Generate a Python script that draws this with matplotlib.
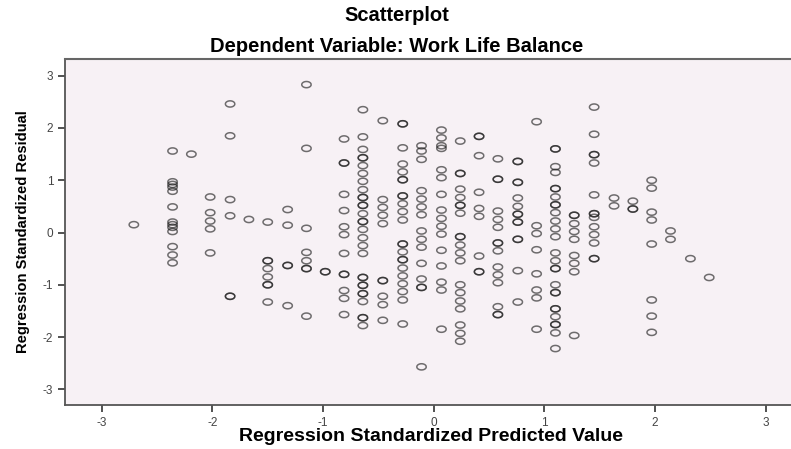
import numpy as np
import matplotlib
matplotlib.use("Agg")
import matplotlib.pyplot as plt
from matplotlib.path import Path

# Predicted values (discrete columns) and the residuals in each column
pred_levels = [-2.71, -2.36, -2.19, -2.02, -1.84, -1.67, -1.50, -1.32, -1.15, -0.98,
               -0.81, -0.64, -0.46, -0.28, -0.11, 0.07, 0.24, 0.41, 0.58, 0.76,
               0.93, 1.10, 1.27, 1.45, 1.63, 1.80, 1.97, 2.14, 2.32, 2.49]

resid_cols = [
    [0.15],
    [1.56, 0.97, 0.92, 0.87, 0.79, 0.49, 0.20, 0.15, 0.10, 0.02, -0.27, -0.43, -0.58],
    [1.50],
    [0.68, 0.38, 0.22, 0.07, -0.39],
    [2.46, 1.85, 0.63, 0.32, -1.22, -1.22],
    [0.25],
    [0.20, -0.54, -0.54, -0.69, -0.85, -1.00, -1.00, -1.33],
    [0.44, 0.14, -0.63, -0.63, -1.40],
    [2.83, 1.61, 0.08, -0.38, -0.54, -0.69, -0.69, -1.60],
    [-0.75, -0.75],
    [1.79, 1.33, 1.33, 0.73, 0.42, 0.11, -0.04, -0.40, -0.80, -0.80, -1.11, -1.26, -1.57],
    [2.35, 1.83, 1.59, 1.43, 1.43, 1.28, 1.13, 0.98, 0.82, 0.67, 0.67, 0.52, 0.52, 0.36,
     0.21, 0.21, 0.06, -0.10, -0.25, -0.40, -0.86, -0.86, -1.01, -1.01, -1.17, -1.17,
     -1.32, -1.63, -1.63, -1.78],
    [2.14, 0.63, 0.48, 0.33, 0.17, -0.92, -0.92, -1.22, -1.38, -1.68],
    [2.08, 2.08, 1.62, 1.31, 1.16, 1.01, 1.01, 0.70, 0.70, 0.55, 0.40, 0.24, -0.22, -0.22,
     -0.37, -0.52, -0.52, -0.68, -0.83, -0.98, -1.13, -1.29, -1.75],
    [1.66, 1.56, 1.40, 0.80, 0.64, 0.49, 0.34, 0.03, -0.13, -0.28, -0.59, -0.89, -1.05,
     -1.05, -2.57],
    [1.96, 1.81, 1.66, 1.61, 1.20, 1.05, 0.73, 0.43, 0.27, 0.12, -0.03, -0.34, -0.64,
     -0.95, -1.10, -1.85],
    [1.75, 1.13, 1.13, 0.83, 0.67, 0.52, 0.52, 0.37, -0.08, -0.08, -0.24, -0.39, -0.54,
     -1.00, -1.15, -1.31, -1.46, -1.77, -1.93, -2.08],
    [1.84, 1.84, 1.47, 0.77, 0.46, 0.31, -0.45, -0.75, -0.75],
    [1.41, 1.02, 1.02, 0.41, 0.25, 0.10, -0.20, -0.20, -0.35, -0.66, -0.81, -0.96, -1.42,
     -1.57, -1.57],
    [1.36, 1.36, 0.96, 0.96, 0.66, 0.50, 0.35, 0.35, 0.20, 0.20, -0.13, -0.13, -0.73, -1.33],
    [2.12, 0.13, -0.02, -0.33, -0.79, -1.10, -1.25, -1.85],
    [1.60, 1.60, 1.26, 1.15, 0.84, 0.84, 0.68, 0.53, 0.53, 0.38, 0.22, 0.07, -0.08, -0.39,
     -0.54, -0.69, -0.69, -1.00, -1.15, -1.15, -1.46, -1.46, -1.61, -1.76, -1.76, -1.92,
     -2.22],
    [0.33, 0.33, 0.17, 0.02, -0.13, -0.44, -0.59, -0.75, -1.97],
    [2.40, 1.88, 1.49, 1.49, 1.33, 0.72, 0.36, 0.36, 0.29, 0.11, -0.04, -0.20, -0.50, -0.50],
    [0.66, 0.51],
    [0.60, 0.45, 0.45],
    [1.00, 0.85, 0.39, 0.24, -0.22, -1.29, -1.60, -1.91],
    [0.03, -0.13],
    [-0.50],
    [-0.86],
]

ticks = [-3, -2, -1, 0, 1, 2, 3]

x = np.concatenate([[p] * len(r) for p, r in zip(pred_levels, resid_cols)])
y = np.concatenate(resid_cols)

plt.rcParams['font.family'] = ['Liberation Sans', 'DejaVu Sans']
plt.rcParams['axes.unicode_minus'] = False

fig = plt.figure(figsize=(7.91, 4.49), dpi=100)
ax = fig.add_axes([0.0822, 0.098, 0.9178, 0.7706])
ax.set_facecolor('#f7f1f5')

# flattened circle, the SPSS picture is stretched sideways
t = np.linspace(0, 2 * np.pi, 41)
ellipse = Path(np.column_stack([np.cos(t), 0.66 * np.sin(t)]))

ax.scatter(x, y, marker=ellipse, s=46, facecolors='none', edgecolors='#1a1a1a',
           linewidths=1.1, alpha=0.62, zorder=3)

ax.set_xlim(-3.332, 3.229)
ax.set_ylim(-3.30, 3.32)
ax.set_xticks(ticks)
ax.set_yticks(ticks)
ax.tick_params(direction='out', length=5, width=1.2, color='#333333',
               labelsize=8.5, labelcolor='#444444')

for side in ['left', 'bottom']:
    ax.spines[side].set_color('#555555')
    ax.spines[side].set_linewidth(1.3)
ax.spines['top'].set_color('#666666')
ax.spines['top'].set_linewidth(1.5)
ax.spines['right'].set_visible(False)

ax.set_xlabel('Regression Standardized Predicted Value', fontsize=14,
              fontweight='bold')
ax.xaxis.set_label_coords(0.504, -0.066)
ax.set_ylabel('Regression Standardized Residual', fontsize=10.6,
              fontweight='bold', labelpad=9)

fig.text(0.502, 0.966, 'Scatterplot', ha='center', va='center',
         fontsize=14.5, fontweight='bold')
fig.text(0.502, 0.897, 'Dependent Variable: Work Life Balance', ha='center',
         va='center', fontsize=14.5, fontweight='bold')

fig.savefig('out.png', dpi=100)
